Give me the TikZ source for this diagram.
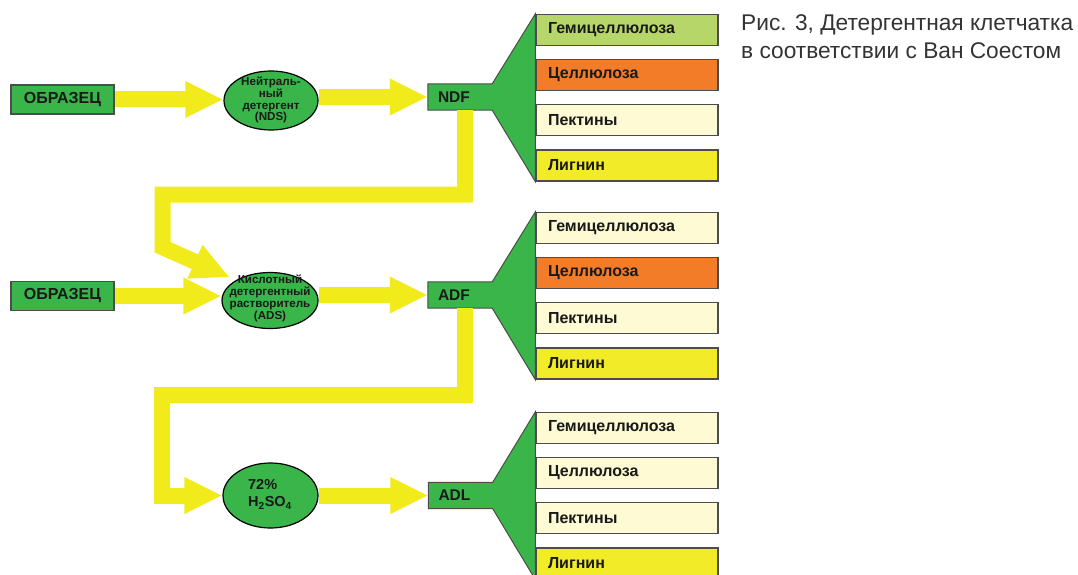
\documentclass[tikz,border=0pt]{standalone}
\usepackage{fontspec}
\setmainfont{Liberation Sans}
\usepackage{xcolor}
\usetikzlibrary{arrows.meta,positioning,shapes.geometric,backgrounds}

\definecolor{grn}{RGB}{57,181,74}
\definecolor{flowy}{RGB}{241,235,28}
\definecolor{hemi}{RGB}{183,214,106}
\definecolor{orng}{RGB}{243,124,40}
\definecolor{cream}{RGB}{253,250,212}
\definecolor{lig}{RGB}{242,235,39}

\begin{document}
\begin{tikzpicture}[x=1pt, y=-1pt,
        every node/.style={font=\bfseries, text=black!90},
        sample/.style={draw=black!70, line width=1.5pt, fill=grn, minimum width=103pt,
            minimum height=29pt, font=\fontsize{16}{18}\selectfont\bfseries},
        bowl/.style={ellipse, draw=black, line width=1.2pt, fill=grn, inner sep=0pt},
        bowltext/.style={align=center, inner sep=0pt, font=\fontsize{11.6}{11.8}\selectfont\bfseries},
        residue/.style={minimum height=26pt, text width=44pt, inner xsep=10pt, align=left,
            font=\fontsize{15.5}{17}\selectfont\bfseries},
        frac/.style={draw=black!70, line width=1.3pt, minimum height=31pt, text width=158pt,
            inner xsep=12pt, align=left, font=\fontsize{16}{18}\selectfont\bfseries},
        funnel/.style={draw=black!70, line width=1pt, fill=grn},
        flow/.style={draw=flowy, line width=16pt, line join=miter,
            -{Triangle[length=38pt, width=34pt]}}]
        \useasboundingbox (0,0) rectangle (1078,575);
        \clip (0,0) rectangle (1078,575);

        % Row 1: neutral detergent
        \node[sample] (smp1) at (62.5,99.5) {ОБРАЗЕЦ};
        \node[bowl, minimum width=94pt, minimum height=59pt] (nds) at (271,100.5) {};
        \node[bowltext] (ndst) at (271,100) {Нейтраль-\\ный\\детергент\\(NDS)};
        \node[residue] (ndf) at (460,97) {NDF};

        % Row 2: acid detergent
        \node[sample] (smp2) at (62.5,296) {ОБРАЗЕЦ};
        \node[bowl, minimum width=96pt, minimum height=56pt] (ads) at (270,300.5) {};
        \node[bowltext] (adst) at (270,298.5) {Кислотный\\детергентный\\растворитель\\(ADS)};
        \node[residue] (adf) at (460,295) {ADF};

        % Row 3: sulphuric acid
        \node[bowl, minimum width=95pt, minimum height=65pt] (acid) at (270.5,495.5) {};
        \node[align=left, inner sep=0pt, font=\fontsize{14.5}{17}\selectfont\bfseries] (acidt)
            at (270,494.5) {72\%\\H\textsubscript{2}SO\textsubscript{4}};
        \node[residue] (adl) at (460.5,495.5) {ADL};

        % Fractions
        \foreach \g/\y/\ca/\cb in {n/30/hemi/orng, a/228/cream/orng, l/428/cream/cream} {
            \node[frac, fill=\ca] (\g1) at (627,\y) {Гемицеллюлоза};
            \node[frac, fill=\cb] (\g2) at (627,\y+45) {Целлюлоза};
            \node[frac, fill=cream] (\g3) at (627,\y+90) {Пектины};
            \node[frac, fill=lig] (\g4) at (627,\y+135.5) {Лигнин};
        }

        % Funnels
        \begin{scope}[on background layer]
            \draw[funnel] (ndf.south west) -- (ndf.north west) -- (ndf.north east) -- (n1.north west)
                -- (n4.south west) -- (ndf.south east) -- cycle;
            \draw[funnel] (adf.south west) -- (adf.north west) -- (adf.north east) -- (a1.north west)
                -- (a4.south west) -- (adf.south east) -- cycle;
            \draw[funnel] (adl.south west) -- (adl.north west) -- (adl.north east) -- (l1.north west)
                -- (l4.south west) -- (adl.south east) -- cycle;
        \end{scope}

        % Flow arrows
        \draw[flow] (smp1.east) -- (smp1.east -| nds.west);
        \draw[flow] (ndf.west -| nds.east) -- (ndf.west);
        \draw[flow] (smp2.east) -- (smp2.east -| ads.west);
        \draw[flow] (adf.west -| ads.east) -- (adf.west);
        \draw[flow] (acid.east) -- (adl.west);

        % Returns
        \draw[flow] ([xshift=5pt]ndf.south) -- ++(0,84.5) -| ++(-302.5,52.5)
            -- ([shift={(-6,-3)}]ads.north west);
        \draw[flow] ([xshift=5pt]adf.south) -- ++(0,86.5) -| ([xshift=-60pt]acid.west) -- (acid.west);

        % Caption
        \node[anchor=north west, align=left, inner sep=0pt, text=black!80,
            font=\fontsize{22.7}{28}\selectfont\mdseries] (cap) at (741,14)
            {Рис. 3, Детергентная клетчатка\\в соответствии с Ван Соестом};
\end{tikzpicture}
\end{document}
